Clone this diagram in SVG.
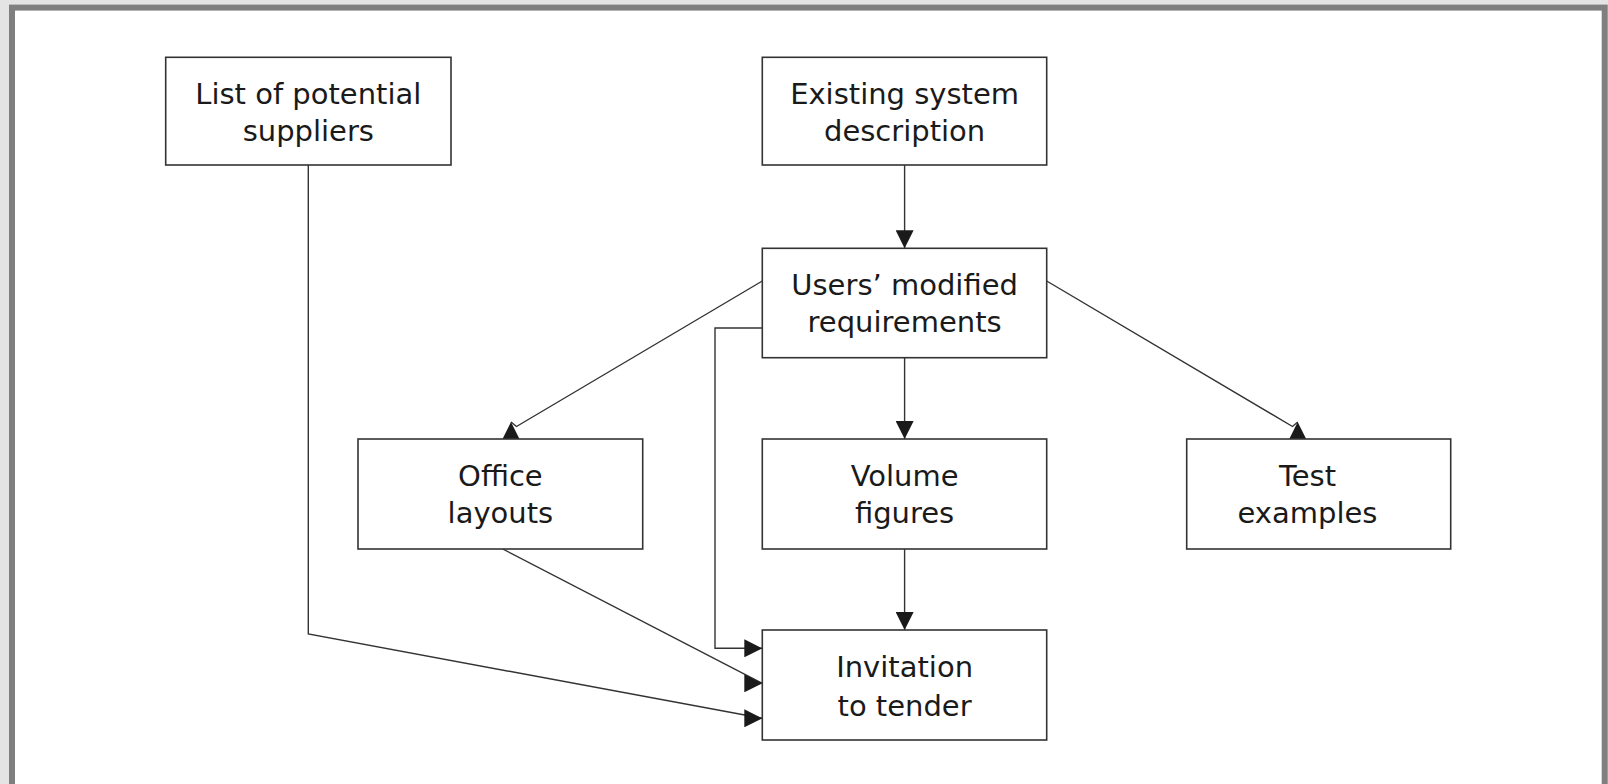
<svg xmlns="http://www.w3.org/2000/svg" width="1608" height="784" viewBox="0 0 1608 784">
  <style>
    .box { fill: #ffffff; stroke: #333333; stroke-width: 1.6; }
    .label { font-family: "DejaVu Sans", "Open Sans", sans-serif; font-size: 29px; fill: #1a1a1a; text-anchor: middle; }
    .link { fill: none; stroke: #333333; stroke-width: 1.4; }
    .down { marker-end: url(#head-down); }
    .up { marker-end: url(#head-up); }
    .right { marker-end: url(#head-right); }
  </style>
  <defs>
    <marker id="head-right" markerUnits="userSpaceOnUse" viewBox="0 0 18 18" refX="18" refY="9" markerWidth="18" markerHeight="18" orient="0">
      <path d="M0,0 L18,9 L0,18 Z" fill="#1a1a1a"/>
    </marker>
    <marker id="head-down" markerUnits="userSpaceOnUse" viewBox="0 0 18 18" refX="18" refY="9" markerWidth="18" markerHeight="18" orient="90">
      <path d="M0,0 L18,9 L0,18 Z" fill="#1a1a1a"/>
    </marker>
    <marker id="head-up" markerUnits="userSpaceOnUse" viewBox="0 0 18 18" refX="18" refY="9" markerWidth="18" markerHeight="18" orient="-90">
      <path d="M0,0 L18,9 L0,18 Z" fill="#1a1a1a"/>
    </marker>
  </defs>

  <!-- page background and panel frame -->
  <rect x="0" y="0" width="1608" height="784" fill="#e4e4e4"/>
  <rect x="12" y="7.6" width="1592.7" height="820" fill="#ffffff" stroke="#7f7f7f" stroke-width="6"/>

  <!-- connectors -->
  <g id="connectors">
    <path class="link down" d="M904.6,165 V248.3"/>
    <path class="link down" d="M904.6,357.7 V439"/>
    <path class="link down" d="M904.6,549 V630"/>
    <path class="link up" d="M762.3,281 L516.5,426.5 L511,422"/>
    <path class="link up" d="M1046.7,281 L1292.5,426.5 L1297.7,422"/>
    <path class="link right" d="M762.3,328 H715 V648.3 H762.3"/>
    <path class="link right" d="M502.7,549 L762.3,683.3"/>
    <path class="link right" d="M308.3,165 V634 L762.3,718.3"/>
  </g>

  <g id="list-of-potential-suppliers">
    <rect class="box" x="165.7" y="57.3" width="285.3" height="107.7"/>
    <text class="label" x="308.3" y="103.5">List of potential<tspan x="308.3" dy="37.5">suppliers</tspan></text>
  </g>

  <g id="existing-system-description">
    <rect class="box" x="762.3" y="57.3" width="284.4" height="107.7"/>
    <text class="label" x="904.6" y="103.5">Existing system<tspan x="904.6" dy="37.5">description</tspan></text>
  </g>

  <g id="users-modified-requirements">
    <rect class="box" x="762.3" y="248.3" width="284.4" height="109.4"/>
    <text class="label" x="904.6" y="295">Users’ modified<tspan x="904.6" dy="37">requirements</tspan></text>
  </g>

  <g id="office-layouts">
    <rect class="box" x="358" y="439" width="284.7" height="110"/>
    <text class="label" x="500.4" y="485.7">Office<tspan x="500.4" dy="37.3">layouts</tspan></text>
  </g>

  <g id="volume-figures">
    <rect class="box" x="762.3" y="439" width="284.4" height="110"/>
    <text class="label" x="904.6" y="485.7">Volume<tspan x="904.6" dy="37.3">figures</tspan></text>
  </g>

  <g id="test-examples">
    <rect class="box" x="1186.7" y="439" width="264" height="110"/>
    <text class="label" x="1307.5" y="485.7">Test<tspan x="1307.5" dy="37.3">examples</tspan></text>
  </g>

  <g id="invitation-to-tender">
    <rect class="box" x="762.3" y="630" width="284.4" height="110"/>
    <text class="label" x="904.6" y="677.3">Invitation<tspan x="904.6" dy="38.7">to tender</tspan></text>
  </g>
</svg>
